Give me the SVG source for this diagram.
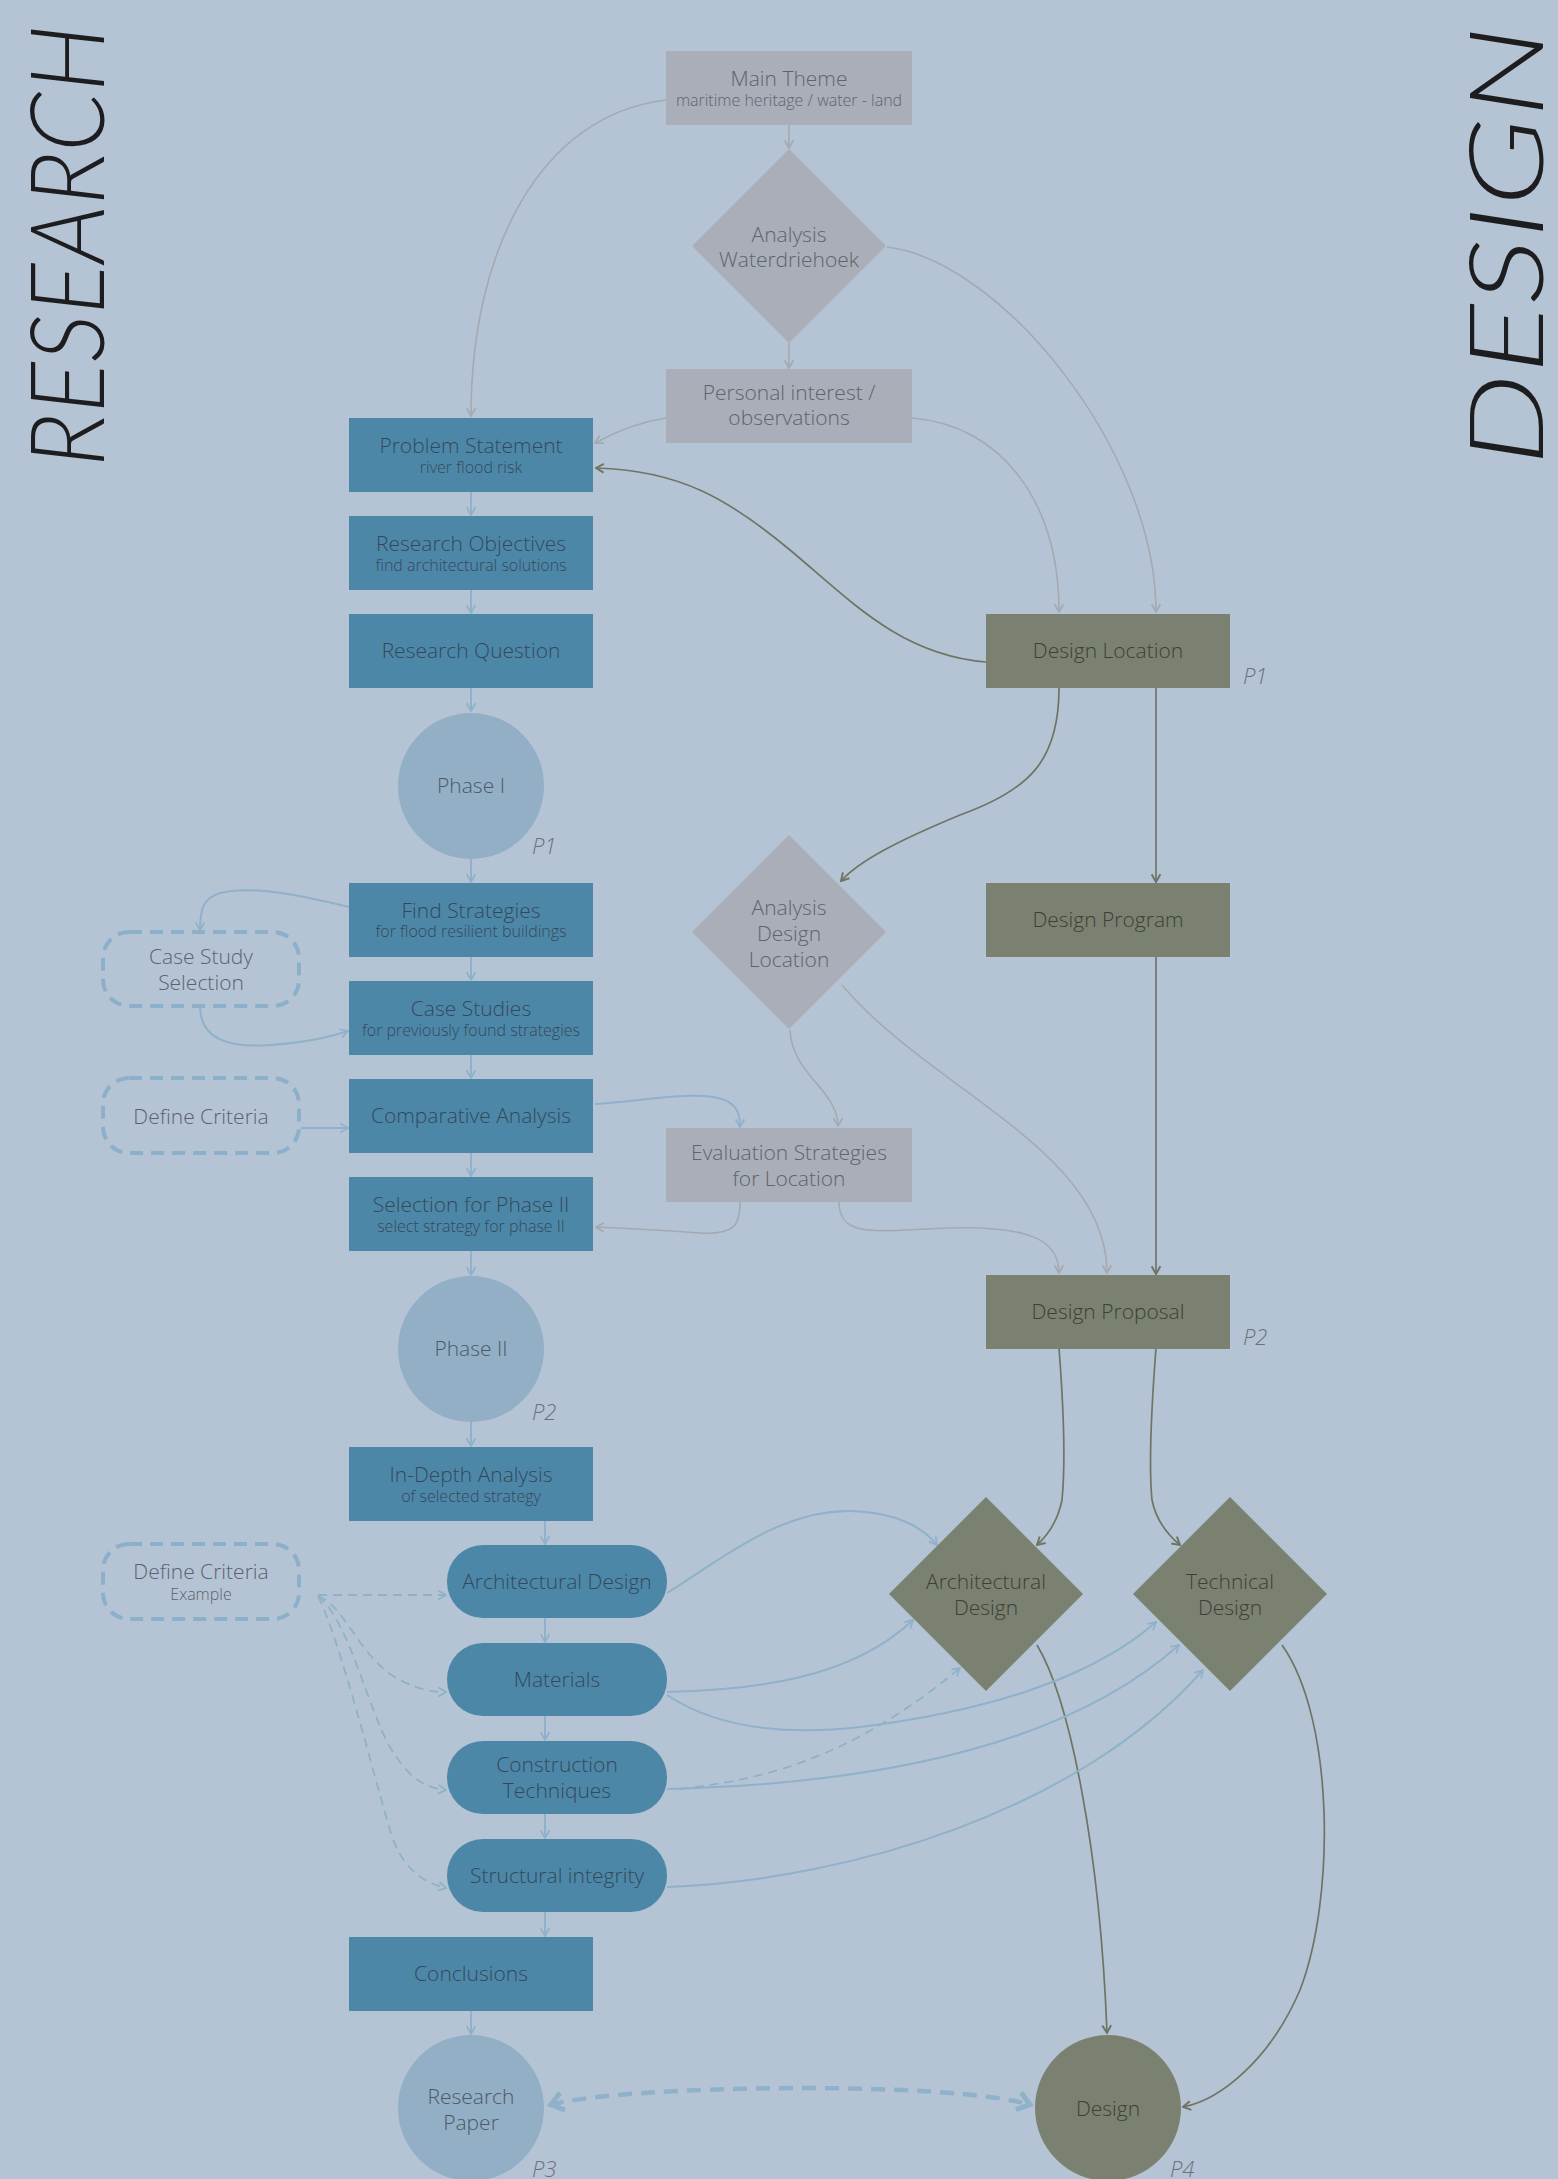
<svg xmlns="http://www.w3.org/2000/svg" width="1558" height="2179" viewBox="0 0 1558 2179">
<style>
text{font-family:"Open Sans","Noto Sans","Liberation Sans",sans-serif;font-weight:300}
.t{font-size:21px;text-anchor:middle}
.s{font-size:16px;text-anchor:middle}
.nb{fill:#4d87a8}
.ng{fill:#a9aeb8}
.no{fill:#7b8171}
.nc{fill:#92afc6}
.nd{fill:none;stroke:#8db0ca;stroke-width:4;stroke-dasharray:13 8}
.tb{fill:#33495b}
.tg{fill:#60646c}
.to{fill:#3c4036}
.tc{fill:#4d5966}
.td{fill:#5a6270}
.p{font-size:22px;font-style:italic;fill:#6a717c}
.big{font-family:Lato,"Open Sans",sans-serif;font-size:102px;font-style:italic;fill:#1d1d1f;font-weight:300}
.cb{fill:none;stroke:#8fb1ca;stroke-width:2}
.cbd{fill:none;stroke:#8fb1ca;stroke-width:1.8;stroke-dasharray:9 6}
.cg{fill:none;stroke:#a4a9b2;stroke-width:1.6}
.co{fill:none;stroke:#6f7565;stroke-width:1.7}
</style>
<defs>
<marker id="ab" viewBox="0 0 10 10" refX="9" refY="5" markerWidth="11" markerHeight="11" markerUnits="userSpaceOnUse" orient="auto"><path d="M2,1 L9,5 L2,9" fill="none" stroke="#8fb1ca" stroke-width="1.6"/></marker>
<marker id="ag" viewBox="0 0 10 10" refX="9" refY="5" markerWidth="11" markerHeight="11" markerUnits="userSpaceOnUse" orient="auto"><path d="M2,1 L9,5 L2,9" fill="none" stroke="#a4a9b2" stroke-width="1.6"/></marker>
<marker id="ao" viewBox="0 0 10 10" refX="9" refY="5" markerWidth="11" markerHeight="11" markerUnits="userSpaceOnUse" orient="auto"><path d="M2,1 L9,5 L2,9" fill="none" stroke="#6f7565" stroke-width="1.8"/></marker>
<marker id="abig" viewBox="0 0 20 24" refX="17" refY="12" markerWidth="20" markerHeight="24" markerUnits="userSpaceOnUse" orient="auto-start-reverse"><path d="M4,3 L16,12 L4,21" fill="none" stroke="#8fb1ca" stroke-width="5"/></marker>
</defs>
<rect x="0" y="0" width="1558" height="2179" fill="#b5c4d4"/>

<text class="big" transform="translate(104,467) rotate(-90)" textLength="442" lengthAdjust="spacingAndGlyphs">RESEARCH</text>
<text class="big" transform="translate(1543,466) rotate(-90)" textLength="440" lengthAdjust="spacingAndGlyphs">DESIGN</text>

<g id="connectors">
<path class="cg" d="M789,125 L789,148" marker-end="url(#ag)"/>
<path class="cg" d="M789,343 L789,368" marker-end="url(#ag)"/>
<path class="cg" d="M666,100 C540,115 471,250 471,416" marker-end="url(#ag)"/>
<path class="cg" d="M666,418 C640,422 615,432 595,443" marker-end="url(#ag)"/>
<path class="cg" d="M887,247 C1000,260 1156,450 1156,612" marker-end="url(#ag)"/>
<path class="cg" d="M912,418 C1000,425 1059,500 1059,612" marker-end="url(#ag)"/>
<path class="cg" d="M790,1030 C792,1075 838,1090 838,1126" marker-end="url(#ag)"/>
<path class="cg" d="M842,985 C930,1090 1107,1150 1107,1273" marker-end="url(#ag)"/>
<path class="cg" d="M839,1202 C839,1240 880,1230 950,1228 C1030,1226 1059,1240 1059,1273" marker-end="url(#ag)"/>
<path class="cg" d="M740,1202 C740,1225 735,1235 700,1233 C660,1230 620,1228 596,1227" marker-end="url(#ag)"/>
<path class="co" d="M986,662 C900,655 850,600 790,550 C730,500 680,470 596,468" marker-end="url(#ao)"/>
<path class="co" d="M1059,688 C1059,760 1030,790 960,815 C900,840 860,860 841,881" marker-end="url(#ao)"/>
<path class="co" d="M1156,688 L1156,882" marker-end="url(#ao)"/>
<path class="co" d="M1156,957 L1156,1274" marker-end="url(#ao)"/>
<path class="co" d="M1059,1348 C1063,1400 1066,1460 1062,1500 C1058,1520 1048,1535 1037,1545" marker-end="url(#ao)"/>
<path class="co" d="M1156,1348 C1152,1400 1148,1460 1152,1500 C1156,1520 1168,1535 1180,1545" marker-end="url(#ao)"/>
<path class="co" d="M1037,1645 C1070,1700 1100,1850 1107,2033" marker-end="url(#ao)"/>
<path class="co" d="M1282,1645 C1335,1720 1335,1900 1300,1990 C1270,2060 1220,2100 1183,2107" marker-end="url(#ao)"/>
<path class="cb" d="M471,492 L471,515" marker-end="url(#ab)"/>
<path class="cb" d="M471,590 L471,613" marker-end="url(#ab)"/>
<path class="cb" d="M471,688 L471,711" marker-end="url(#ab)"/>
<path class="cb" d="M471,859 L471,882" marker-end="url(#ab)"/>
<path class="cb" d="M471,957 L471,980" marker-end="url(#ab)"/>
<path class="cb" d="M471,1055 L471,1078" marker-end="url(#ab)"/>
<path class="cb" d="M471,1153 L471,1176" marker-end="url(#ab)"/>
<path class="cb" d="M471,1251 L471,1275" marker-end="url(#ab)"/>
<path class="cb" d="M471,1422 L471,1446" marker-end="url(#ab)"/>
<path class="cb" d="M545,1521 L545,1544" marker-end="url(#ab)"/>
<path class="cb" d="M545,1618 L545,1642" marker-end="url(#ab)"/>
<path class="cb" d="M545,1716 L545,1740" marker-end="url(#ab)"/>
<path class="cb" d="M545,1814 L545,1838" marker-end="url(#ab)"/>
<path class="cb" d="M545,1912 L545,1936" marker-end="url(#ab)"/>
<path class="cb" d="M471,2011 L471,2034" marker-end="url(#ab)"/>
<path class="cb" d="M349,907 C300,895 250,885 220,893 C203,898 200,910 200,930" marker-end="url(#ab)"/>
<path class="cb" d="M200,1006 C200,1040 230,1048 270,1045 C300,1043 330,1037 348,1031" marker-end="url(#ab)"/>
<path class="cb" d="M301,1128 L348,1128" marker-end="url(#ab)"/>
<path class="cb" d="M595,1104 C650,1100 700,1090 725,1100 C738,1106 740,1115 740,1127" marker-end="url(#ab)"/>
<path class="cb" d="M667,1593 C720,1560 780,1510 850,1511 C900,1512 925,1530 937,1545" marker-end="url(#ab)"/>
<path class="cb" d="M667,1692 C750,1690 850,1680 913,1620" marker-end="url(#ab)"/>
<path class="cb" d="M667,1695 C720,1730 790,1735 860,1727 C980,1712 1090,1680 1156,1622" marker-end="url(#ab)"/>
<path class="cb" d="M667,1789 C830,1785 1050,1760 1179,1645" marker-end="url(#ab)"/>
<path class="cb" d="M667,1887 C850,1880 1080,1810 1203,1670" marker-end="url(#ab)"/>
<path class="cbd" d="M680,1789 C760,1780 850,1760 960,1668" marker-end="url(#ab)"/>
<path class="cbd" d="M318,1595 L446,1595" marker-end="url(#ab)"/>
<path class="cbd" d="M318,1596 C345,1605 360,1660 400,1680 C420,1690 432,1692 446,1692" marker-end="url(#ab)"/>
<path class="cbd" d="M318,1596 C350,1620 370,1720 395,1755 C410,1778 425,1788 446,1790" marker-end="url(#ab)"/>
<path class="cbd" d="M318,1596 C340,1640 375,1780 390,1830 C400,1865 420,1882 446,1888" marker-end="url(#ab)"/>
<path d="M550,2105 C620,2085 950,2080 1031,2105" fill="none" stroke="#8fb1ca" stroke-width="4.5" stroke-dasharray="14 9" marker-start="url(#abig)" marker-end="url(#abig)"/>
</g>

<g id="main-theme"><rect class="ng" x="666" y="51" width="246" height="74"/><text class="t tg" x="789" y="86">Main Theme</text><text class="s tg" x="789" y="106">maritime heritage / water - land</text></g>
<g id="analysis-waterdriehoek"><polygon class="ng" points="789,149 886,246 789,343 692,246"/><text class="t tg" x="789" y="242">Analysis</text><text class="t tg" x="789" y="267">Waterdriehoek</text></g>
<g id="personal-interest"><rect class="ng" x="666" y="369" width="246" height="74"/><text class="t tg" x="789" y="400">Personal interest /</text><text class="t tg" x="789" y="425">observations</text></g>
<g id="problem-statement"><rect class="nb" x="349" y="418" width="244" height="74"/><text class="t tb" x="471" y="453">Problem Statement</text><text class="s tb" x="471" y="473">river flood risk</text></g>
<g id="research-objectives"><rect class="nb" x="349" y="516" width="244" height="74"/><text class="t tb" x="471" y="551">Research Objectives</text><text class="s tb" x="471" y="571">find architectural solutions</text></g>
<g id="research-question"><rect class="nb" x="349" y="614" width="244" height="74"/><text class="t tb" x="471" y="658">Research Question</text></g>
<g id="phase-1"><circle class="nc" cx="471" cy="786" r="73"/><text class="t tc" x="471" y="793">Phase I</text><text class="p" x="532" y="854">P1</text></g>
<g id="find-strategies"><rect class="nb" x="349" y="883" width="244" height="74"/><text class="t tb" x="471" y="918">Find Strategies</text><text class="s tb" x="471" y="937">for flood resilient buildings</text></g>
<g id="case-study-selection"><rect class="nd" x="103" y="932" width="196" height="74" rx="26"/><text class="t td" x="201" y="964">Case Study</text><text class="t td" x="201" y="990">Selection</text></g>
<g id="case-studies"><rect class="nb" x="349" y="981" width="244" height="74"/><text class="t tb" x="471" y="1016">Case Studies</text><text class="s tb" x="471" y="1036">for previously found strategies</text></g>
<g id="define-criteria"><rect class="nd" x="103" y="1078" width="196" height="75" rx="26"/><text class="t td" x="201" y="1124">Define Criteria</text></g>
<g id="comparative-analysis"><rect class="nb" x="349" y="1079" width="244" height="74"/><text class="t tb" x="471" y="1123">Comparative Analysis</text></g>
<g id="evaluation-strategies"><rect class="ng" x="666" y="1128" width="246" height="74"/><text class="t tg" x="789" y="1160">Evaluation Strategies</text><text class="t tg" x="789" y="1186">for Location</text></g>
<g id="selection-phase-2"><rect class="nb" x="349" y="1177" width="244" height="74"/><text class="t tb" x="471" y="1212">Selection for Phase II</text><text class="s tb" x="471" y="1232">select strategy for phase II</text></g>
<g id="phase-2"><circle class="nc" cx="471" cy="1349" r="73"/><text class="t tc" x="471" y="1356">Phase II</text><text class="p" x="532" y="1420">P2</text></g>
<g id="in-depth-analysis"><rect class="nb" x="349" y="1447" width="244" height="74"/><text class="t tb" x="471" y="1482">In-Depth Analysis</text><text class="s tb" x="471" y="1502">of selected strategy</text></g>
<g id="define-criteria-example"><rect class="nd" x="103" y="1544" width="196" height="75" rx="26"/><text class="t td" x="201" y="1579">Define Criteria</text><text class="s td" x="201" y="1600">Example</text></g>
<g id="architectural-design"><rect class="nb" x="447" y="1545" width="220" height="73" rx="36"/><text class="t tb" x="557" y="1589">Architectural Design</text></g>
<g id="materials"><rect class="nb" x="447" y="1643" width="220" height="73" rx="36"/><text class="t tb" x="557" y="1687">Materials</text></g>
<g id="construction-techniques"><rect class="nb" x="447" y="1741" width="220" height="73" rx="36"/><text class="t tb" x="557" y="1772">Construction</text><text class="t tb" x="557" y="1798">Techniques</text></g>
<g id="structural-integrity"><rect class="nb" x="447" y="1839" width="220" height="73" rx="36"/><text class="t tb" x="557" y="1883">Structural integrity</text></g>
<g id="conclusions"><rect class="nb" x="349" y="1937" width="244" height="74"/><text class="t tb" x="471" y="1981">Conclusions</text></g>
<g id="research-paper"><circle class="nc" cx="471" cy="2108" r="73"/><text class="t tc" x="471" y="2104">Research</text><text class="t tc" x="471" y="2130">Paper</text><text class="p" x="532" y="2177">P3</text></g>
<g id="design-location"><rect class="no" x="986" y="614" width="244" height="74"/><text class="t to" x="1108" y="658">Design Location</text><text class="p" x="1243" y="684">P1</text></g>
<g id="analysis-design-location"><polygon class="ng" points="789,835 886,932 789,1029 692,932"/><text class="t tg" x="789" y="915">Analysis</text><text class="t tg" x="789" y="941">Design</text><text class="t tg" x="789" y="967">Location</text></g>
<g id="design-program"><rect class="no" x="986" y="883" width="244" height="74"/><text class="t to" x="1108" y="927">Design Program</text></g>
<g id="design-proposal"><rect class="no" x="986" y="1275" width="244" height="74"/><text class="t to" x="1108" y="1319">Design Proposal</text><text class="p" x="1243" y="1345">P2</text></g>
<g id="architectural-design-d"><polygon class="no" points="986,1497 1083,1594 986,1691 889,1594"/><text class="t to" x="986" y="1589">Architectural</text><text class="t to" x="986" y="1615">Design</text></g>
<g id="technical-design"><polygon class="no" points="1230,1497 1327,1594 1230,1691 1133,1594"/><text class="t to" x="1230" y="1589">Technical</text><text class="t to" x="1230" y="1615">Design</text></g>
<g id="design"><circle class="no" cx="1108" cy="2108" r="73"/><text class="t to" x="1108" y="2116">Design</text><text class="p" x="1170" y="2177">P4</text></g>
</svg>
